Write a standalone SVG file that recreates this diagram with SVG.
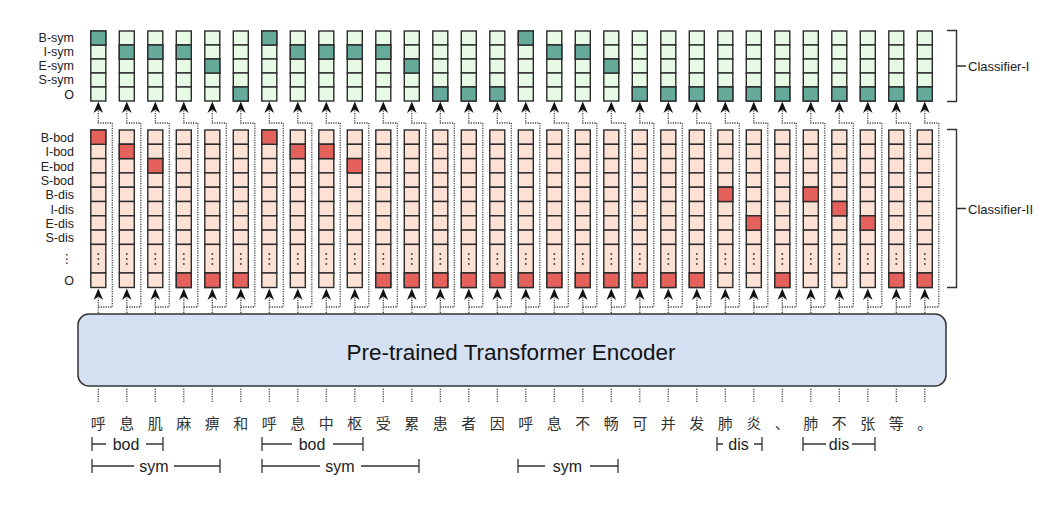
<svg xmlns="http://www.w3.org/2000/svg" xmlns:xlink="http://www.w3.org/1999/xlink" width="1043" height="515" viewBox="0 0 1043 515">
<style>
.gc{fill:#e6fae6;stroke:#2b2b2b;stroke-width:1.4}
.gd{fill:#66ab9a;stroke:#2b2b2b;stroke-width:1.4}
.rc{fill:#fde1d4;stroke:#2b2b2b;stroke-width:1.4}
.rd{fill:#e5625c;stroke:#2b2b2b;stroke-width:1.4}
.dt{fill:#444}
.lbl{font-family:"Liberation Sans",Arial,sans-serif;font-size:12.5px;fill:#222;text-anchor:end;dominant-baseline:central}
.cls{font-family:"Liberation Sans",Arial,sans-serif;font-size:13px;fill:#222;dominant-baseline:central}
.dot{fill:none;stroke:#444;stroke-width:1.3;stroke-dasharray:1.2 1.2}
.ah{fill:#111}
.br{fill:none;stroke:#333;stroke-width:1.4}
.tok{font-family:"Noto Sans CJK SC","Noto Sans CJK JP",sans-serif;font-size:15px;fill:#333;text-anchor:middle}
.sp{fill:none;stroke:#333;stroke-width:1.3}
.spt{font-family:"Liberation Sans",Arial,sans-serif;font-size:16px;fill:#222;text-anchor:middle;dominant-baseline:central}
</style>
<defs>
<g id="gcol">
<rect class="gc" x="-7.5" y="31" width="15" height="14"/>
<rect class="gc" x="-7.5" y="45" width="15" height="14"/>
<rect class="gc" x="-7.5" y="59" width="15" height="14"/>
<rect class="gc" x="-7.5" y="73" width="15" height="14"/>
<rect class="gc" x="-7.5" y="87" width="15" height="14"/>
</g>
<rect id="gB" class="gd" x="-7.5" y="31" width="15" height="14"/>
<rect id="gI" class="gd" x="-7.5" y="45" width="15" height="14"/>
<rect id="gE" class="gd" x="-7.5" y="59" width="15" height="14"/>
<rect id="gO" class="gd" x="-7.5" y="87" width="15" height="14"/>
<g id="rcol">
<rect class="rc" x="-7.5" y="130" width="15" height="14.3"/>
<rect class="rc" x="-7.5" y="144.3" width="15" height="14.3"/>
<rect class="rc" x="-7.5" y="158.6" width="15" height="14.3"/>
<rect class="rc" x="-7.5" y="172.9" width="15" height="14.3"/>
<rect class="rc" x="-7.5" y="187.2" width="15" height="14.3"/>
<rect class="rc" x="-7.5" y="201.5" width="15" height="14.3"/>
<rect class="rc" x="-7.5" y="215.8" width="15" height="14.3"/>
<rect class="rc" x="-7.5" y="230.1" width="15" height="14.3"/>
<rect class="rc" x="-7.5" y="244.4" width="15" height="28.6"/>
<rect class="rc" x="-7.5" y="273" width="15" height="14.5"/>
<circle class="dt" cx="0" cy="254" r="1"/>
<circle class="dt" cx="0" cy="259" r="1"/>
<circle class="dt" cx="0" cy="264" r="1"/>
</g>
<rect id="rBb" class="rd" x="-7.5" y="130" width="15" height="14.3"/>
<rect id="rIb" class="rd" x="-7.5" y="144.3" width="15" height="14.3"/>
<rect id="rEb" class="rd" x="-7.5" y="158.6" width="15" height="14.3"/>
<rect id="rBd" class="rd" x="-7.5" y="187.2" width="15" height="14.3"/>
<rect id="rId" class="rd" x="-7.5" y="201.5" width="15" height="14.3"/>
<rect id="rEd" class="rd" x="-7.5" y="215.8" width="15" height="14.3"/>
<rect id="rO" class="rd" x="-7.5" y="273" width="15" height="14.5"/>
<g id="link">
<path class="dot" d="M0,402 V388"/>
<path class="dot" d="M0,313 V297"/>
<path class="ah" d="M0,288.5 L-4.8,300 L0,296.5 L4.8,300 Z"/>
<path class="dot" d="M0,307 H14 V123 H0 V110"/>
<path class="ah" d="M0,101.5 L-4.8,113 L0,109.5 L4.8,113 Z"/>
</g>
</defs>

<g id="connectors">
<use href="#link" x="98.3"/><use href="#link" x="126.8"/><use href="#link" x="155.3"/><use href="#link" x="183.8"/><use href="#link" x="212.3"/><use href="#link" x="240.8"/>
<use href="#link" x="269.3"/><use href="#link" x="297.8"/><use href="#link" x="326.3"/><use href="#link" x="354.8"/><use href="#link" x="383.3"/><use href="#link" x="411.8"/>
<use href="#link" x="440.3"/><use href="#link" x="468.8"/><use href="#link" x="497.3"/><use href="#link" x="525.8"/><use href="#link" x="554.3"/><use href="#link" x="582.8"/>
<use href="#link" x="611.3"/><use href="#link" x="639.8"/><use href="#link" x="668.3"/><use href="#link" x="696.8"/><use href="#link" x="725.3"/><use href="#link" x="753.8"/>
<use href="#link" x="782.3"/><use href="#link" x="810.8"/><use href="#link" x="839.3"/><use href="#link" x="867.8"/><use href="#link" x="896.3"/><use href="#link" x="924.8"/>
</g>

<g id="classifier1-labels">
<text class="lbl" x="74" y="38">B-sym</text>
<text class="lbl" x="74" y="52">I-sym</text>
<text class="lbl" x="74" y="66">E-sym</text>
<text class="lbl" x="74" y="80">S-sym</text>
<text class="lbl" x="74" y="94.5">O</text>
</g>
<g id="classifier2-labels">
<text class="lbl" x="74" y="138">B-bod</text>
<text class="lbl" x="74" y="152.3">I-bod</text>
<text class="lbl" x="74" y="166.6">E-bod</text>
<text class="lbl" x="74" y="180.9">S-bod</text>
<text class="lbl" x="74" y="195.2">B-dis</text>
<text class="lbl" x="74" y="209.5">I-dis</text>
<text class="lbl" x="74" y="223.8">E-dis</text>
<text class="lbl" x="74" y="238.1">S-dis</text>
<text class="lbl" x="73" y="258.5" style="font-family:'DejaVu Sans',sans-serif">⋮</text>
<text class="lbl" x="74" y="280.5">O</text>
</g>

<g id="c1-01" transform="translate(98.3,0)"><use href="#gcol"/><use href="#gB"/></g>
<g id="c1-02" transform="translate(126.8,0)"><use href="#gcol"/><use href="#gI"/></g>
<g id="c1-03" transform="translate(155.3,0)"><use href="#gcol"/><use href="#gI"/></g>
<g id="c1-04" transform="translate(183.8,0)"><use href="#gcol"/><use href="#gI"/></g>
<g id="c1-05" transform="translate(212.3,0)"><use href="#gcol"/><use href="#gE"/></g>
<g id="c1-06" transform="translate(240.8,0)"><use href="#gcol"/><use href="#gO"/></g>
<g id="c1-07" transform="translate(269.3,0)"><use href="#gcol"/><use href="#gB"/></g>
<g id="c1-08" transform="translate(297.8,0)"><use href="#gcol"/><use href="#gI"/></g>
<g id="c1-09" transform="translate(326.3,0)"><use href="#gcol"/><use href="#gI"/></g>
<g id="c1-10" transform="translate(354.8,0)"><use href="#gcol"/><use href="#gI"/></g>
<g id="c1-11" transform="translate(383.3,0)"><use href="#gcol"/><use href="#gI"/></g>
<g id="c1-12" transform="translate(411.8,0)"><use href="#gcol"/><use href="#gE"/></g>
<g id="c1-13" transform="translate(440.3,0)"><use href="#gcol"/><use href="#gO"/></g>
<g id="c1-14" transform="translate(468.8,0)"><use href="#gcol"/><use href="#gO"/></g>
<g id="c1-15" transform="translate(497.3,0)"><use href="#gcol"/><use href="#gO"/></g>
<g id="c1-16" transform="translate(525.8,0)"><use href="#gcol"/><use href="#gB"/></g>
<g id="c1-17" transform="translate(554.3,0)"><use href="#gcol"/><use href="#gI"/></g>
<g id="c1-18" transform="translate(582.8,0)"><use href="#gcol"/><use href="#gI"/></g>
<g id="c1-19" transform="translate(611.3,0)"><use href="#gcol"/><use href="#gE"/></g>
<g id="c1-20" transform="translate(639.8,0)"><use href="#gcol"/><use href="#gO"/></g>
<g id="c1-21" transform="translate(668.3,0)"><use href="#gcol"/><use href="#gO"/></g>
<g id="c1-22" transform="translate(696.8,0)"><use href="#gcol"/><use href="#gO"/></g>
<g id="c1-23" transform="translate(725.3,0)"><use href="#gcol"/><use href="#gO"/></g>
<g id="c1-24" transform="translate(753.8,0)"><use href="#gcol"/><use href="#gO"/></g>
<g id="c1-25" transform="translate(782.3,0)"><use href="#gcol"/><use href="#gO"/></g>
<g id="c1-26" transform="translate(810.8,0)"><use href="#gcol"/><use href="#gO"/></g>
<g id="c1-27" transform="translate(839.3,0)"><use href="#gcol"/><use href="#gO"/></g>
<g id="c1-28" transform="translate(867.8,0)"><use href="#gcol"/><use href="#gO"/></g>
<g id="c1-29" transform="translate(896.3,0)"><use href="#gcol"/><use href="#gO"/></g>
<g id="c1-30" transform="translate(924.8,0)"><use href="#gcol"/><use href="#gO"/></g>

<g id="c2-01" transform="translate(98.3,0)"><use href="#rcol"/><use href="#rBb"/></g>
<g id="c2-02" transform="translate(126.8,0)"><use href="#rcol"/><use href="#rIb"/></g>
<g id="c2-03" transform="translate(155.3,0)"><use href="#rcol"/><use href="#rEb"/></g>
<g id="c2-04" transform="translate(183.8,0)"><use href="#rcol"/><use href="#rO"/></g>
<g id="c2-05" transform="translate(212.3,0)"><use href="#rcol"/><use href="#rO"/></g>
<g id="c2-06" transform="translate(240.8,0)"><use href="#rcol"/><use href="#rO"/></g>
<g id="c2-07" transform="translate(269.3,0)"><use href="#rcol"/><use href="#rBb"/></g>
<g id="c2-08" transform="translate(297.8,0)"><use href="#rcol"/><use href="#rIb"/></g>
<g id="c2-09" transform="translate(326.3,0)"><use href="#rcol"/><use href="#rIb"/></g>
<g id="c2-10" transform="translate(354.8,0)"><use href="#rcol"/><use href="#rEb"/></g>
<g id="c2-11" transform="translate(383.3,0)"><use href="#rcol"/><use href="#rO"/></g>
<g id="c2-12" transform="translate(411.8,0)"><use href="#rcol"/><use href="#rO"/></g>
<g id="c2-13" transform="translate(440.3,0)"><use href="#rcol"/><use href="#rO"/></g>
<g id="c2-14" transform="translate(468.8,0)"><use href="#rcol"/><use href="#rO"/></g>
<g id="c2-15" transform="translate(497.3,0)"><use href="#rcol"/><use href="#rO"/></g>
<g id="c2-16" transform="translate(525.8,0)"><use href="#rcol"/><use href="#rO"/></g>
<g id="c2-17" transform="translate(554.3,0)"><use href="#rcol"/><use href="#rO"/></g>
<g id="c2-18" transform="translate(582.8,0)"><use href="#rcol"/><use href="#rO"/></g>
<g id="c2-19" transform="translate(611.3,0)"><use href="#rcol"/><use href="#rO"/></g>
<g id="c2-20" transform="translate(639.8,0)"><use href="#rcol"/><use href="#rO"/></g>
<g id="c2-21" transform="translate(668.3,0)"><use href="#rcol"/><use href="#rO"/></g>
<g id="c2-22" transform="translate(696.8,0)"><use href="#rcol"/><use href="#rO"/></g>
<g id="c2-23" transform="translate(725.3,0)"><use href="#rcol"/><use href="#rBd"/></g>
<g id="c2-24" transform="translate(753.8,0)"><use href="#rcol"/><use href="#rEd"/></g>
<g id="c2-25" transform="translate(782.3,0)"><use href="#rcol"/><use href="#rO"/></g>
<g id="c2-26" transform="translate(810.8,0)"><use href="#rcol"/><use href="#rBd"/></g>
<g id="c2-27" transform="translate(839.3,0)"><use href="#rcol"/><use href="#rId"/></g>
<g id="c2-28" transform="translate(867.8,0)"><use href="#rcol"/><use href="#rEd"/></g>
<g id="c2-29" transform="translate(896.3,0)"><use href="#rcol"/><use href="#rO"/></g>
<g id="c2-30" transform="translate(924.8,0)"><use href="#rcol"/><use href="#rO"/></g>

<g id="classifier1-bracket">
<path class="br" d="M947,30.5 H956.5 V101.5 H947 M956.5,66 H966"/>
<text class="cls" x="968" y="66.5">Classifier-I</text>
</g>
<g id="classifier2-bracket">
<path class="br" d="M947,129.5 H956.5 V287.5 H947 M956.5,208.5 H966"/>
<text class="cls" x="968" y="209">Classifier-II</text>
</g>

<g id="encoder">
<rect x="78" y="314" width="868" height="72" rx="11" ry="11" fill="#d5e0f3" stroke="#333" stroke-width="1.5"/>
<text x="511" y="352" text-anchor="middle" dominant-baseline="central" font-family="'Liberation Sans',Arial,sans-serif" font-size="22.5" fill="#111">Pre-trained Transformer Encoder</text>
</g>

<g id="tokens">
<text id="t01" class="tok" x="98.3" y="429">呼</text>
<text id="t02" class="tok" x="126.8" y="429">息</text>
<text id="t03" class="tok" x="155.3" y="429">肌</text>
<text id="t04" class="tok" x="183.8" y="429">麻</text>
<text id="t05" class="tok" x="212.3" y="429">痹</text>
<text id="t06" class="tok" x="240.8" y="429">和</text>
<text id="t07" class="tok" x="269.3" y="429">呼</text>
<text id="t08" class="tok" x="297.8" y="429">息</text>
<text id="t09" class="tok" x="326.3" y="429">中</text>
<text id="t10" class="tok" x="354.8" y="429">枢</text>
<text id="t11" class="tok" x="383.3" y="429">受</text>
<text id="t12" class="tok" x="411.8" y="429">累</text>
<text id="t13" class="tok" x="440.3" y="429">患</text>
<text id="t14" class="tok" x="468.8" y="429">者</text>
<text id="t15" class="tok" x="497.3" y="429">因</text>
<text id="t16" class="tok" x="525.8" y="429">呼</text>
<text id="t17" class="tok" x="554.3" y="429">息</text>
<text id="t18" class="tok" x="582.8" y="429">不</text>
<text id="t19" class="tok" x="611.3" y="429">畅</text>
<text id="t20" class="tok" x="639.8" y="429">可</text>
<text id="t21" class="tok" x="668.3" y="429">并</text>
<text id="t22" class="tok" x="696.8" y="429">发</text>
<text id="t23" class="tok" x="725.3" y="429">肺</text>
<text id="t24" class="tok" x="753.8" y="429">炎</text>
<text id="t25" class="tok" x="782.3" y="429">、</text>
<text id="t26" class="tok" x="810.8" y="429">肺</text>
<text id="t27" class="tok" x="839.3" y="429">不</text>
<text id="t28" class="tok" x="867.8" y="429">张</text>
<text id="t29" class="tok" x="896.3" y="429">等</text>
<text id="t30" class="tok" x="924.8" y="429">。</text>
</g>

<g id="span-bod1">
<path class="sp" d="M92,437 V451 M92,444 H106 M146,444 H163 M163,437 V451"/>
<text class="spt" x="126" y="444">bod</text>
</g>
<g id="span-sym1">
<path class="sp" d="M92,459 V473 M92,466 H134 M174,466 H220 M220,459 V473"/>
<text class="spt" x="154" y="466">sym</text>
</g>
<g id="span-bod2">
<path class="sp" d="M262,437 V451 M262,444 H292 M333,444 H363 M363,437 V451"/>
<text class="spt" x="312" y="444">bod</text>
</g>
<g id="span-sym2">
<path class="sp" d="M262,459 V473 M262,466 H320 M361,466 H419 M419,459 V473"/>
<text class="spt" x="340" y="466">sym</text>
</g>
<g id="span-sym3">
<path class="sp" d="M518,459 V473 M518,466 H545 M590,466 H618 M618,459 V473"/>
<text class="spt" x="567.5" y="466">sym</text>
</g>
<g id="span-dis1">
<path class="sp" d="M717,437 V451 M717,444 H723 M754,444 H762 M762,437 V451"/>
<text class="spt" x="738.5" y="444">dis</text>
</g>
<g id="span-dis2">
<path class="sp" d="M803,437 V451 M803,444 H826 M852,444 H875 M875,437 V451"/>
<text class="spt" x="839" y="444">dis</text>
</g>
</svg>
